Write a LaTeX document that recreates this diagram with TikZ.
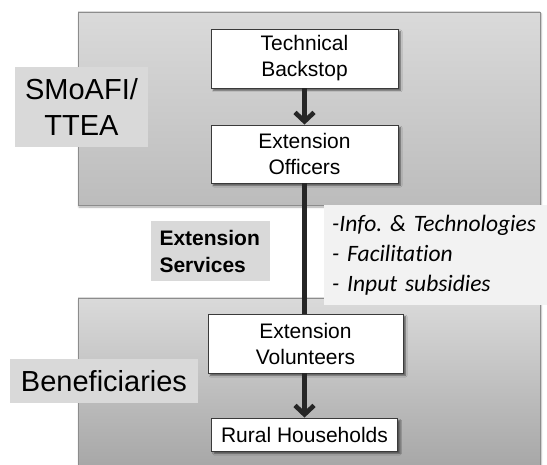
\documentclass[tikz,border=0pt]{standalone}
\usepackage{fontspec}
\setmainfont{Liberation Sans}
\newfontfamily\calibfont[Ligatures=NoCommon]{Carlito}
\usetikzlibrary{arrows.meta,shadows.blur}
\frenchspacing

\definecolor{linkgrey}{HTML}{262626}
\definecolor{tagfill}{HTML}{D9D9D9}
\definecolor{notefill}{HTML}{F2F2F2}
\definecolor{edgegrey}{HTML}{8C8C8C}
\definecolor{boxedge}{HTML}{3A3A3A}
\definecolor{paneltop}{HTML}{DADADA}
\definecolor{upperbottom}{HTML}{BCBCBC}
\definecolor{lowerbottom}{HTML}{A6A6A6}

\tikzset{
  tierpanel/.style={draw=edgegrey, line width=0.8pt, inner sep=0pt,
    blur shadow={shadow xshift=1pt, shadow yshift=-2pt, shadow blur radius=2pt, shadow opacity=35}},
  rolebox/.style={draw=boxedge, fill=white, line width=0.8pt, inner sep=0pt,
    align=center, font=\fontsize{21}{26}\selectfont,
    blur shadow={shadow xshift=2.5pt, shadow yshift=-2.5pt, shadow blur radius=1.5pt, shadow opacity=55}},
  tagbox/.style={fill=tagfill, inner sep=0pt},
  link/.style={draw=linkgrey, line width=4.6pt},
  flow/.style={link, -{Straight Barb[length=9pt, width=19pt]}},
}

\begin{document}
\begin{tikzpicture}[x=1pt, y=-1pt]
\useasboundingbox (0,0) rectangle (547,465);

% the two tiers of the delivery chain
\node[tierpanel, top color=paneltop, bottom color=upperbottom,
      minimum width=462pt, minimum height=193pt] (upper) at (309,108.5) {};
\node[tierpanel, top color=paneltop, bottom color=lowerbottom,
      minimum width=462pt, minimum height=172pt] (lower) at (309,384) {};

% tier labels
\node[tagbox, minimum width=133pt, minimum height=80pt, align=center,
      font=\fontsize{29}{36}\selectfont] (govlabel) at (81.5,107) {SMoAFI/\\TTEA};
\node[tagbox, minimum width=188pt, minimum height=44pt,
      font=\fontsize{29}{34}\selectfont] (benlabel) at (104,381) {Beneficiaries};

% actors
\node[rolebox, minimum width=187pt, minimum height=59pt] (backstop) at (304.5,58.5) {Technical\\Backstop};
\node[rolebox, minimum width=187pt, minimum height=58pt] (officers) at (304.5,154) {Extension\\Officers};
\node[rolebox, minimum width=195pt, minimum height=59pt] (volunteers) at (305.5,343.5) {Extension\\Volunteers};
\node[rolebox, minimum width=186pt, minimum height=33pt] (households) at (304.5,434.5) {Rural Households};

% connectors
\draw[flow] (backstop.south) -- (officers.north);
\draw[link] (officers.south) -- (officers.south |- volunteers.north);
\draw[flow] (volunteers.south -| officers.south) -- (households.north -| officers.south);

% service channel label and contents
\node[tagbox, minimum width=119pt, minimum height=60pt, text width=102pt, align=left,
      font=\bfseries\fontsize{21}{27}\selectfont] (services) at (210.5,251) {Extension\\Services};
\node[fill=notefill, anchor=north west, inner xsep=8pt, inner ysep=0pt,
      minimum height=100pt, text width=220pt, align=left,
      font=\calibfont\itshape\fontsize{23.5}{30}\selectfont] (contents) at (324,205)
      {-Info. \& Technologies\\- Facilitation\\- Input subsidies};
\end{tikzpicture}
\end{document}
